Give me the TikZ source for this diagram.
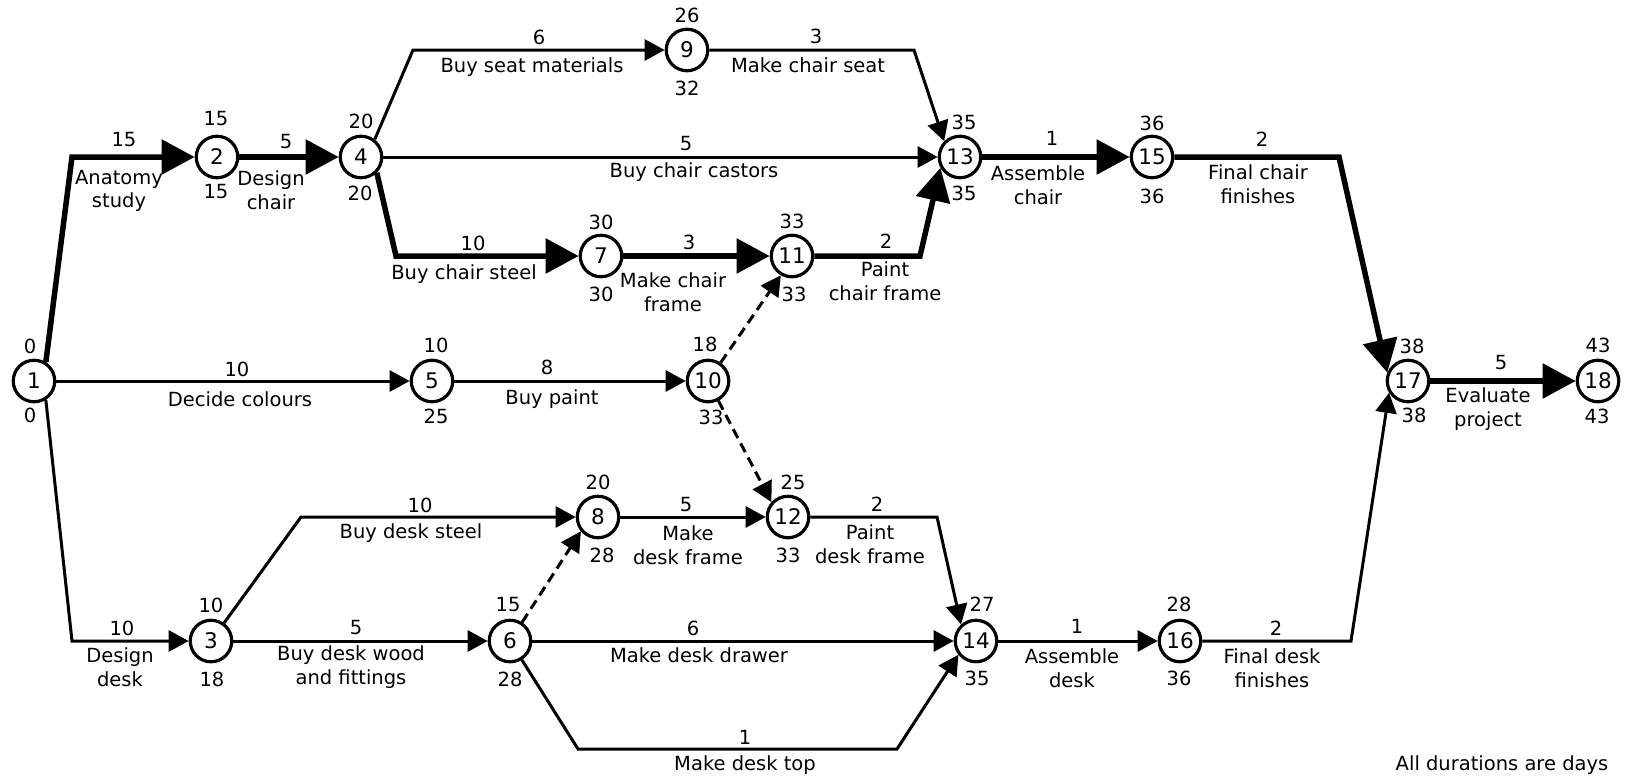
\documentclass[tikz,border=0pt]{standalone}
\usepackage{fontspec}
\setmainfont{DejaVu Sans}
\usetikzlibrary{arrows.meta}
\tikzset{
  ev/.style={circle, draw, line width=3.2pt, minimum size=41.5pt, inner sep=0pt, fill=white, font=\fontsize{21.5}{21.5}\selectfont},
  tx/.style={inner sep=0pt, align=center, font=\fontsize{19.5}{23.5}\selectfont},
  crit/.style={line width=5.5pt, line join=miter, -{Triangle[length=33pt,width=34pt]}},
  act/.style={line width=3pt, line join=miter, -{Triangle[length=20pt,width=21pt]}},
  dummy/.style={act, dash pattern=on 10pt off 6pt}
}
\begin{document}
\begin{tikzpicture}[x=1pt,y=-1pt]
\useasboundingbox (0,0) rectangle (1632,779);
% events
\node[ev] (n1) at (34,381) {1};
\node[ev] (n2) at (217,157) {2};
\node[ev] (n4) at (361,157) {4};
\node[ev] (n5) at (432,381) {5};
\node[ev] (n9) at (687,50) {9};
\node[ev] (n13) at (960,157) {13};
\node[ev] (n15) at (1152,157) {15};
\node[ev] (n7) at (601,256) {7};
\node[ev] (n11) at (792,256) {11};
\node[ev] (n10) at (708,381) {10};
\node[ev] (n17) at (1408,381) {17};
\node[ev] (n18) at (1598,381) {18};
\node[ev] (n3) at (211,641) {3};
\node[ev] (n6) at (510,641) {6};
\node[ev] (n8) at (598,517) {8};
\node[ev] (n12) at (788,517) {12};
\node[ev] (n14) at (976,641) {14};
\node[ev] (n16) at (1180,641) {16};
% bend points
\coordinate (b12) at (72,157);
\coordinate (b13) at (72,641);
\coordinate (b49) at (413,50);
\coordinate (b47) at (396,256);
\coordinate (b913) at (914,50);
\coordinate (b1113) at (920,256);
\coordinate (b1517) at (1339,157);
\coordinate (b38) at (301,517);
\coordinate (b1214) at (937,517);
\coordinate (bt1) at (578,749);
\coordinate (bt2) at (897,749);
\coordinate (b1617) at (1351,641);
% activities
\draw[crit] (n1.58) -- (b12) -- (n2);
\draw[crit] (n2) -- (n4);
\draw[act] (n4.52) -- (b49) -- (n9);
\draw[act] (n9) -- (b913) -- (n13.135);
\draw[act] (n4) -- (n13);
\draw[crit] (n4.-45) -- (b47) -- (n7);
\draw[crit] (n7) -- (n11);
\draw[crit] (n11) -- (b1113) -- (n13.209);
\draw[crit] (n13) -- (n15);
\draw[crit] (n15) -- (b1517) -- (n17.158);
\draw[crit] (n17) -- (n18);
\draw[act] (n1) -- (n5);
\draw[act] (n5) -- (n10);
\draw[dummy] (n10) -- (n11.240);
\draw[dummy] (n10) -- (n12.138);
\draw[act] (n1.-58) -- (b13) -- (n3);
\draw[act] (n3) -- (b38) -- (n8);
\draw[act] (n3) -- (n6);
\draw[dummy] (n6) -- (n8.220);
\draw[act] (n8) -- (n12);
\draw[act] (n12) -- (b1214) -- (n14.132);
\draw[act] (n6) -- (n14);
\draw[act] (n6) -- (bt1) -- (bt2) -- (n14.218);
\draw[act] (n14) -- (n16);
\draw[act] (n16) -- (b1617) -- (n17.212);
% event times
\node[tx] (t1a) at (30,346) {0};
\node[tx] (t1b) at (30,415) {0};
\node[tx] (t2a) at (216,119) {15};
\node[tx] (t2b) at (216,192) {15};
\node[tx] (t4a) at (361,121) {20};
\node[tx] (t4b) at (360,193) {20};
\node[tx] (t9a) at (687,15) {26};
\node[tx] (t9b) at (687,88) {32};
\node[tx] (t13a) at (964,122) {35};
\node[tx] (t13b) at (964,193) {35};
\node[tx] (t15a) at (1152,123) {36};
\node[tx] (t15b) at (1152,196) {36};
\node[tx] (t7a) at (601,222) {30};
\node[tx] (t7b) at (601,294) {30};
\node[tx] (t11a) at (792,221) {33};
\node[tx] (t11b) at (794,294) {33};
\node[tx] (t5a) at (436,345) {10};
\node[tx] (t5b) at (436,416) {25};
\node[tx] (t10a) at (705,344) {18};
\node[tx] (t10b) at (711,417) {33};
\node[tx] (t17a) at (1412,346) {38};
\node[tx] (t17b) at (1414,415) {38};
\node[tx] (t18a) at (1598,345) {43};
\node[tx] (t18b) at (1597,416) {43};
\node[tx] (t3a) at (211,605) {10};
\node[tx] (t3b) at (212,679) {18};
\node[tx] (t6a) at (508,605) {15};
\node[tx] (t6b) at (510,679) {28};
\node[tx] (t8a) at (598,482) {20};
\node[tx] (t8b) at (602,555) {28};
\node[tx] (t12a) at (793,482) {25};
\node[tx] (t12b) at (788,555) {33};
\node[tx] (t14a) at (982,604) {27};
\node[tx] (t14b) at (977,678) {35};
\node[tx] (t16a) at (1179,604) {28};
\node[tx] (t16b) at (1179,678) {36};
% activity labels
\node[tx] (d12) at (124,140) {15};
\node[tx] (a12) at (119,191) {Anatomy\\study};
\node[tx] (d24) at (286,142) {5};
\node[tx] (a24) at (271,190) {Design\\chair};
\node[tx] (d49) at (539,37) {6};
\node[tx] (a49) at (532,67) {Buy seat materials};
\node[tx] (d913) at (816,36) {3};
\node[tx] (a913) at (808,65) {Make chair seat};
\node[tx] (d413) at (686,144) {5};
\node[tx] (a413) at (694,172) {Buy chair castors};
\node[tx] (d47) at (473,243) {10};
\node[tx] (a47) at (464,274) {Buy chair steel};
\node[tx] (d711) at (689,242) {3};
\node[tx] (a711) at (673,292) {Make chair\\frame};
\node[tx] (d1113) at (886,241) {2};
\node[tx] (a1113) at (885,281) {Paint\\chair frame};
\node[tx] (d1315) at (1052,138) {1};
\node[tx] (a1315) at (1038,185) {Assemble\\chair};
\node[tx] (d1517) at (1262,139) {2};
\node[tx] (a1517) at (1258,184) {Final chair\\finishes};
\node[tx] (d1718) at (1501,363) {5};
\node[tx] (a1718) at (1488,409) {Evaluate\\project};
\node[tx] (d15) at (237,369) {10};
\node[tx] (a15) at (240,399) {Decide colours};
\node[tx] (d510) at (547,367) {8};
\node[tx] (a510) at (552,399) {Buy paint};
\node[tx] (d13) at (122,628) {10};
\node[tx] (a13) at (120,667) {Design\\desk};
\node[tx] (d38) at (420,505) {10};
\node[tx] (a38) at (411,533) {Buy desk steel};
\node[tx] (d36) at (356,628) {5};
\node[tx] (a36) at (351,667) {Buy desk wood\\and fittings};
\node[tx] (d812) at (686,505) {5};
\node[tx] (a812) at (688,545) {Make\\desk frame};
\node[tx] (d1214) at (877,504) {2};
\node[tx] (a1214) at (870,544) {Paint\\desk frame};
\node[tx] (d614) at (693,628) {6};
\node[tx] (a614) at (699,655) {Make desk drawer};
\node[tx] (d614t) at (745,737) {1};
\node[tx] (a614t) at (745,765) {Make desk top};
\node[tx] (d1416) at (1077,626) {1};
\node[tx] (a1416) at (1072,668) {Assemble\\desk};
\node[tx] (d1617) at (1276,628) {2};
\node[tx] (a1617) at (1272,668) {Final desk\\finishes};
\node[tx] (note) at (1502,765) {All durations are days};
\end{tikzpicture}
\end{document}
